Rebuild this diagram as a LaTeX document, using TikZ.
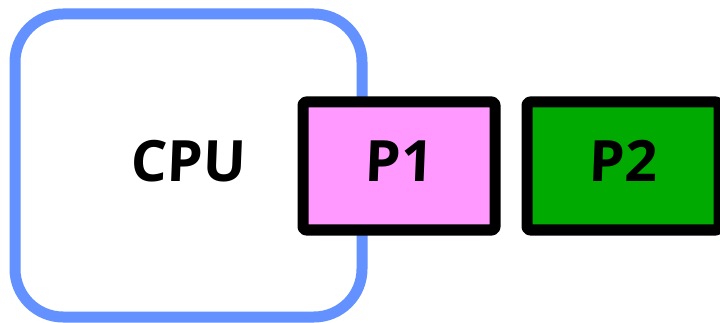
\documentclass[tikz,border=0pt]{standalone}
\usepackage{fontspec}
\setmainfont{Open Sans}
\newfontfamily\labelfont[FakeSlant=0.04]{Open Sans Bold}
\definecolor{cpublue}{HTML}{6391FF}
\definecolor{pinkfill}{HTML}{FF99FF}
\definecolor{greenfill}{HTML}{00AA00}
\begin{document}
\begin{tikzpicture}[x=1pt,y=-1pt,
  cpubox/.style={draw=cpublue,line width=11pt,rounded corners=48pt,fill=white},
  procbox/.style={draw=black,line width=11pt,rounded corners=3pt,line join=round},
  lbl/.style={font=\labelfont\fontsize{57}{60}\selectfont,inner sep=0pt}]
\useasboundingbox (0,0) rectangle (720,323);
% processor region
\draw[cpubox] (15,14) rectangle (362,317);
\node[lbl] (cpu) at (188,161) {CPU};
% process boxes
\draw[procbox,fill=pinkfill] (303,102) rectangle (495,230);
\node[lbl] (p1) at (399,161) {P1};
\draw[procbox,fill=greenfill] (527,102) rectangle (719,230);
\node[lbl] (p2) at (623,161) {P2};
\end{tikzpicture}
\end{document}
